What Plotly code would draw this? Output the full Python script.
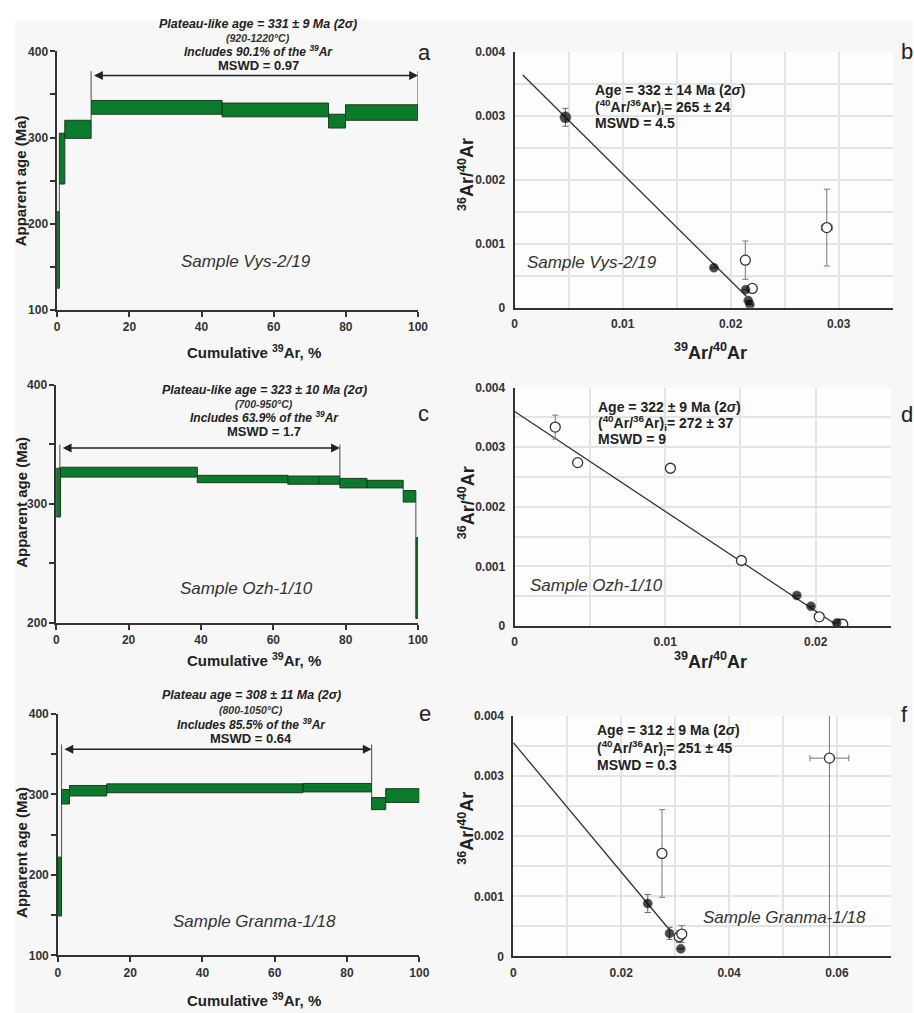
import plotly.graph_objects as go

W, H = 914, 1013
FONT = "Liberation Sans, Arial, sans-serif"

# ---------------- Data: age spectra (left panels) ----------------
# step boundaries (cumulative 39Ar, %), lower / upper age (Ma)
A_x = [0, 0.6, 2.1, 9.4, 45.7, 75.2, 79.9, 100]
A_lo = [125, 246, 299, 327, 324, 311, 320]
A_hi = [214, 305, 320, 343, 340, 327, 338]
A_plat = [9.4, 100]
A_arrow_y = 372
A_plat_top = 377

C_x = [0, 1.2, 39, 64, 72.5, 78.4, 85.9, 95.9, 99.4, 100]
C_lo = [289, 322.5, 317.8, 316.5, 316.5, 313.4, 313.4, 301.5, 203.6]
C_hi = [330, 330.8, 324, 323.4, 323.4, 321.4, 319.8, 311.2, 271.4]
C_plat = [1.0, 78.4]
C_arrow_y = 347
C_plat_top = 350

E_x = [0, 1.0, 3.2, 13.5, 67.8, 86.8, 90.7, 100]
E_lo = [149, 288, 298, 302, 303, 281, 290]
E_hi = [222, 306, 311, 313, 313.5, 296, 307]
E_plat = [1.0, 86.8]
E_arrow_y = 356
E_plat_top = 362

SPEC_X_TICKS = [0, 20, 40, 60, 80, 100]
SPEC_Y_TICKS_A = [100, 200, 300, 400]
SPEC_Y_TICKS_C = [200, 300, 400]

# ---------------- Data: isochrons (right panels) ----------------
B_fill_x = [0.0047, 0.01845, 0.02139, 0.02163, 0.02178]
B_fill_y = [0.00298, 0.000627, 0.000283, 0.000113, 0.000051]
B_fill_ey = [0.00014, 0, 0, 0, 0]
B_open_x = [0.02136, 0.0220, 0.0289]
B_open_y = [0.000745, 0.000303, 0.001254]
B_open_ey = [0.0003, 0.00006, 0.0006]
B_open_ex = [0, 0, 0.0005]
B_line_x = [0.00076, 0.02145]
B_line_y = [0.00364, 0.00018]

D_open_x = [0.0027, 0.00419, 0.01035, 0.01507, 0.02024, 0.0216, 0.0218]
D_open_y = [0.003338, 0.002742, 0.002648, 0.0011, 0.000154, 0.00003, 0.00003]
D_open_ey = [0.0002, 0, 0, 0, 0, 0, 0]
D_fill_x = [0.01875, 0.01969, 0.0214]
D_fill_y = [0.000513, 0.000331, 0.00005]
D_line_x = [0, 0.0215]
D_line_y = [0.0036, 0.0]

F_fill_x = [0.02492, 0.02896, 0.03105]
F_fill_y = [0.000881, 0.000383, 0.000126]
F_fill_ey = [0.00015, 0.0001, 0]
F_open_x = [0.02756, 0.03074, 0.03123, 0.0586]
F_open_y = [0.001713, 0.000328, 0.000372, 0.0033]
F_open_ey = [0.00073, 0.0001, 0.00014, 0.005]
F_open_ex = [0, 0, 0, 0.0036]
F_line_x = [0, 0.0291]
F_line_y = [0.003557, 0.000427]

ISO_Y_TICKS = [0, 0.001, 0.002, 0.003, 0.004]
ISO_Y_LABELS = ["0", "0.001", "0.002", "0.003", "0.004"]
B_X_TICKS = [0, 0.01, 0.02, 0.03]
B_X_LABELS = ["0", "0.01", "0.02", "0.03"]
D_X_TICKS = [0, 0.01, 0.02]
D_X_LABELS = ["0", "0.01", "0.02"]
F_X_TICKS = [0, 0.02, 0.04, 0.06]
F_X_LABELS = ["0", "0.02", "0.04", "0.06"]

GREEN = "#0b7a2a"
GREEN_EDGE = "#1d3a22"

def px(x):
    return x / W


def py(y):
    return 1 - y / H


def bold(labels):
    return ["<b>" + str(t) + "</b>" for t in labels]


fig = go.Figure()


def spectrum(xs, lo, hi, plat, arrow_y, plat_top, ax):
    xa, ya = "x" + ax, "y" + ax
    cx, cy = [], []
    for i in range(len(lo) - 1):
        b = xs[i + 1]
        if hi[i] < lo[i + 1]:
            cx += [b, b, None]
            cy += [hi[i], lo[i + 1], None]
        elif hi[i + 1] < lo[i]:
            cx += [b, b, None]
            cy += [hi[i + 1], lo[i], None]
    for p in plat:
        tops = [hi[i] for i in range(len(lo)) if xs[i] <= p <= xs[i + 1]]
        cx += [p, p, None]
        cy += [plat_top, max(tops), None]
    fig.add_trace(go.Scatter(x=cx, y=cy, mode="lines", xaxis=xa, yaxis=ya,
                             line=dict(color="#666", width=1.2),
                             showlegend=False, hoverinfo="skip"))
    rx, ry = [], []
    for i in range(len(lo)):
        rx += [xs[i], xs[i + 1], xs[i + 1], xs[i], xs[i], None]
        ry += [lo[i], lo[i], hi[i], hi[i], lo[i], None]
    fig.add_trace(go.Scatter(x=rx, y=ry, mode="lines", fill="toself",
                             fillcolor=GREEN, xaxis=xa, yaxis=ya,
                             line=dict(color=GREEN_EDGE, width=1),
                             showlegend=False, hoverinfo="skip"))
    fig.add_annotation(x=plat[1], y=arrow_y, ax=plat[0] + 0.4, ay=arrow_y,
                       xref=xa, yref=ya, axref=xa, ayref=ya, text="",
                       showarrow=True, arrowhead=2, arrowside="end+start",
                       arrowsize=1.1, arrowwidth=1.6, arrowcolor="#222",
                       standoff=0, startstandoff=0)


def isochron(fx, fy, fey, ox, oy, oey, oex, lx, ly, ax, big_first=False):
    xa, ya = "x" + ax, "y" + ax
    fig.add_trace(go.Scatter(x=lx, y=ly, mode="lines", xaxis=xa, yaxis=ya,
                             line=dict(color="#333", width=1.3),
                             showlegend=False, hoverinfo="skip"))
    fig.add_trace(go.Scatter(
        x=ox, y=oy, mode="markers", xaxis=xa, yaxis=ya,
        marker=dict(size=10, color="white", line=dict(color="#333", width=1.3)),
        error_y=dict(type="data", array=oey, color="#777", thickness=1, width=3),
        error_x=dict(type="data", array=oex, color="#777", thickness=1, width=3),
        showlegend=False, hoverinfo="skip"))
    sizes = [9] * len(fx)
    if big_first:
        sizes[0] = 11
    fig.add_trace(go.Scatter(
        x=fx, y=fy, mode="markers", xaxis=xa, yaxis=ya,
        marker=dict(size=sizes, color="#000", line=dict(color="#000", width=0.5)),
        error_y=dict(type="data", array=fey, color="#666", thickness=1, width=3),
        showlegend=False, hoverinfo="skip"))


spectrum(A_x, A_lo, A_hi, A_plat, A_arrow_y, A_plat_top, "")
isochron(B_fill_x, B_fill_y, B_fill_ey, B_open_x, B_open_y, B_open_ey, B_open_ex,
         B_line_x, B_line_y, "2", big_first=True)
spectrum(C_x, C_lo, C_hi, C_plat, C_arrow_y, C_plat_top, "3")
isochron(D_fill_x, D_fill_y, [0] * len(D_fill_x), D_open_x, D_open_y, D_open_ey,
         [0] * len(D_open_x), D_line_x, D_line_y, "4")
spectrum(E_x, E_lo, E_hi, E_plat, E_arrow_y, E_plat_top, "5")
isochron(F_fill_x, F_fill_y, F_fill_ey, F_open_x, F_open_y, F_open_ey, F_open_ex,
         F_line_x, F_line_y, "6")

tickfont = dict(family=FONT, size=12, color="#333")


def left_axes(xd, yd, yrange, yticks):
    xax = dict(domain=[px(xd[0]), px(xd[1])], range=[0, 100],
               tickmode="array", tickvals=SPEC_X_TICKS, ticktext=bold(SPEC_X_TICKS),
               ticks="outside", ticklen=5, tickwidth=1.5, tickcolor="#333",
               showline=True, linecolor="#333", linewidth=2, showgrid=False,
               zeroline=False, tickfont=tickfont, fixedrange=True)
    yax = dict(domain=[py(yd[1]), py(yd[0])], range=yrange,
               tickmode="array", tickvals=yticks, ticktext=bold(yticks),
               ticks="outside", ticklen=5, tickwidth=1.5, tickcolor="#333",
               minor=dict(tickmode="linear", tick0=0, dtick=50, ticks="outside", ticklen=5,
                          tickwidth=1.5, tickcolor="#333", showgrid=False),
               showline=True, linecolor="#333", linewidth=1.5, showgrid=False,
               zeroline=False, tickfont=tickfont, fixedrange=True)
    return xax, yax


def right_axes(xd, yd, xmax, xticks, xlabels, xminor):
    grid = "#e3e3e3"
    xax = dict(domain=[px(xd[0]), px(xd[1])], range=[0, xmax],
               tickmode="array", tickvals=xticks, ticktext=bold(xlabels),
               showgrid=True, gridcolor=grid, gridwidth=1.5,
               minor=dict(tickmode="linear", dtick=xminor, tick0=0, showgrid=True,
                          gridcolor=grid, gridwidth=1.5),
               ticks="outside", ticklen=4, tickcolor="rgba(0,0,0,0)",
               showline=True, linecolor="#333", linewidth=2, zeroline=False,
               tickfont=tickfont, fixedrange=True)
    yax = dict(domain=[py(yd[1]), py(yd[0])], range=[0, 0.004],
               tickmode="array", tickvals=ISO_Y_TICKS, ticktext=bold(ISO_Y_LABELS),
               showgrid=True, gridcolor=grid, gridwidth=1.5,
               minor=dict(tickmode="linear", dtick=0.0005, tick0=0, showgrid=True,
                          gridcolor=grid, gridwidth=1.5),
               ticks="outside", ticklen=5, tickcolor="rgba(0,0,0,0)",
               showline=True, linecolor="#333", linewidth=2, zeroline=False,
               tickfont=tickfont, fixedrange=True)
    return xax, yax


xa1, ya1 = left_axes((55, 421), (45, 307), [100, 400], SPEC_Y_TICKS_A)
xa2, ya2 = right_axes((519, 902.5), (45.7, 305), 0.035, B_X_TICKS, B_X_LABELS, 0.005)
xa3, ya3 = left_axes((54, 421), (383.3, 624.3), [200, 400], SPEC_Y_TICKS_C)
xa4, ya4 = right_axes((519, 900.7), (386, 627.7), 0.025, D_X_TICKS, D_X_LABELS, 0.005)
xa5, ya5 = left_axes((55.7, 422.3), (716.7, 961.7), [100, 400], SPEC_Y_TICKS_A)
xa6, ya6 = right_axes((517.7, 900.7), (719, 962.7), 0.07, F_X_TICKS, F_X_LABELS, 0.01)

for i, (xa, ya) in enumerate([(xa1, ya1), (xa2, ya2), (xa3, ya3), (xa4, ya4), (xa5, ya5), (xa6, ya6)]):
    k = "" if i == 0 else str(i + 1)
    xa["anchor"] = "y" + k
    ya["anchor"] = "x" + k
    fig.layout["xaxis" + k] = xa
    fig.layout["yaxis" + k] = ya

shapes = [dict(type="rect", xref="paper", yref="paper", x0=px(12), x1=1.01,
               y0=-0.01, y1=py(13), fillcolor="#f7f7f7", line=dict(width=0), layer="below")]
for k in ["2", "4", "6"]:
    shapes.append(dict(type="rect", xref="x" + k + " domain", yref="y" + k + " domain",
                       x0=0, x1=1, y0=0, y1=1, fillcolor="#fdfdfd",
                       line=dict(width=0), layer="below"))
fig.layout.shapes = shapes


def ann(text, x, y, size, bold_=False, italic=False, xanchor="center", color="#222", angle=0):
    t = text
    if bold_:
        t = "<b>" + t + "</b>"
    if italic:
        t = "<i>" + t + "</i>"
    fig.add_annotation(text=t, x=px(x), y=py(y), xref="paper", yref="paper",
                       xanchor=xanchor, yanchor="middle", showarrow=False,
                       textangle=angle,
                       font=dict(family=FONT, size=size, color=color))


def plateau_text(cx, ys, l1, l2, l3, l4):
    ann(l1, cx, ys[0], 12.5, bold_=True, italic=True)
    ann(l2, cx, ys[1], 10.5, bold_=True, italic=True, color="#333")
    ann(l3, cx, ys[2], 12, bold_=True, italic=True)
    ann(l4, cx, ys[3], 13, bold_=True)


plateau_text(259, (17, 31.5, 45, 59.5),
             "Plateau-like age = 331 ± 9 Ma (2σ)", "(920-1220°C)",
             "Includes 90.1% of the <sup>39</sup>Ar", "MSWD = 0.97")
plateau_text(265, (388, 402.5, 416, 430.5),
             "Plateau-like age = 323 ± 10 Ma (2σ)", "(700-950°C)",
             "Includes 63.9% of the <sup>39</sup>Ar", "MSWD = 1.7")
plateau_text(252, (698, 713, 727, 741.5),
             "Plateau age = 308 ± 11 Ma (2σ)", "(800-1050°C)",
             "Includes 85.5% of the <sup>39</sup>Ar", "MSWD = 0.64")


def iso_text(x, ys, age, ratio, mswd):
    ann("Age = " + age, x, ys[0], 14, bold_=True, xanchor="left")
    ann("(<sup>40</sup>Ar/<sup>36</sup>Ar)<sub>i</sub>= " + ratio, x, ys[1], 14, bold_=True, xanchor="left")
    ann("MSWD = " + mswd, x, ys[2], 14, bold_=True, xanchor="left")


iso_text(599, (84.5, 101, 118), "332 ± 14 Ma (2<i>σ</i>)", "265 ± 24", "4.5")
iso_text(602, (405.5, 422, 438.5), "322 ± 9 Ma (2<i>σ</i>)", "272 ± 37", "9")
iso_text(601, (733.5, 751, 768.5), "312 ± 9 Ma (2<i>σ</i>)", "251 ± 45", "0.3")

# sample names
ann("Sample Vys-2/19", 246, 258, 17, italic=True, color="#333")
ann("Sample Ozh-1/10", 247, 590, 17, italic=True, color="#333")
ann("Sample Granma-1/18", 255, 927, 17, italic=True, color="#333")
ann("Sample Vys-2/19", 530, 259, 17, italic=True, color="#333", xanchor="left")
ann("Sample Ozh-1/10", 533, 587, 17, italic=True, color="#333", xanchor="left")
ann("Sample Granma-1/18", 708, 923, 17, italic=True, color="#333", xanchor="left")

# panel letters
ann("a", 428, 46, 22, color="#222")
ann("c", 427, 412, 22, color="#222")
ann("e", 428, 716, 22, color="#222")
ann("b", 909, 45, 22, color="#222", xanchor="left")
ann("d", 909, 413, 22, color="#222", xanchor="left")
ann("f", 909, 717, 22, color="#222", xanchor="left")

# axis titles
for y in (349, 662, 1006):
    ann("Cumulative <sup>39</sup>Ar, %", 255, y, 15, bold_=True)
for y in (349, 663):
    ann("<sup>39</sup>Ar/<sup>40</sup>Ar", 718, y, 18, bold_=True)
for y in (176, 502, 857):
    ann("Apparent age (Ma)", 18, y, 15, bold_=True, angle=-90)
for y in (170, 503, 833):
    ann("<sup>36</sup>Ar/<sup>40</sup>Ar", 470, y, 18, bold_=True, angle=-90)

fig.update_layout(width=W, height=H, margin=dict(l=0, r=0, t=0, b=0),
                  paper_bgcolor="white", plot_bgcolor="rgba(0,0,0,0)",
                  showlegend=False, font=dict(family=FONT))

fig.write_html("out.html")
